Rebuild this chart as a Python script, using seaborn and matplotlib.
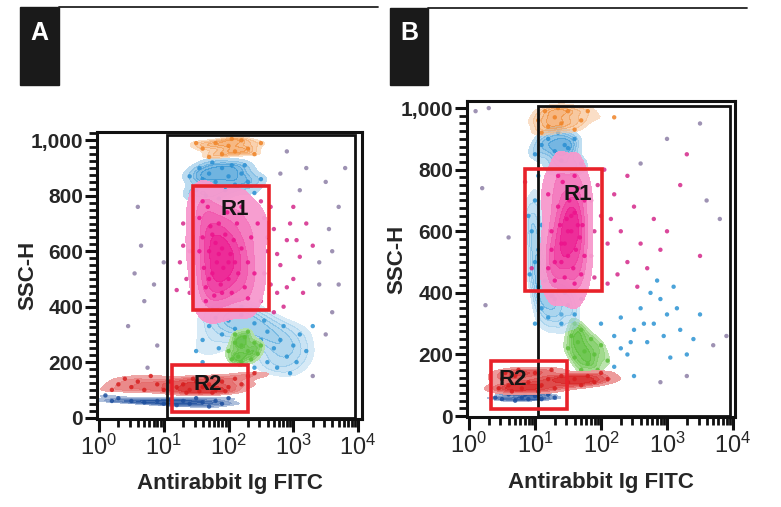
import numpy as np
import pandas as pd
import matplotlib
matplotlib.use("Agg")
import matplotlib.pyplot as plt
import seaborn as sns
from matplotlib.patches import Rectangle
from matplotlib.lines import Line2D
from matplotlib.colors import LinearSegmentedColormap, to_rgb
from matplotlib.ticker import FixedLocator, MultipleLocator, LogLocator, FuncFormatter, NullFormatter

# ---------------- data (x = log10 FITC, y = SSC-H) ----------------
# Panel A
a_magenta = [(1.55,720),(1.6,650),(1.62,540),(1.65,470),(1.68,760),(1.7,600),(1.72,690),(1.75,520),
             (1.78,440),(1.8,630),(1.82,560),(1.85,700),(1.88,480),(1.9,610),(1.92,540),(1.95,660),
             (1.98,740),(2.0,500),(2.03,590),(2.05,450),(2.08,640),(2.1,560),(2.13,700),(2.15,520),
             (2.2,610),(2.25,470),(2.3,560),(2.35,650),(2.4,520),(1.7,500),(1.85,590),(2.0,560),
             (1.9,450),(1.75,660),(1.6,780),(2.2,760),(1.65,420),(2.3,430),(2.45,700),(1.55,600)]
a_magenta_out = [(2.6,600),(2.7,680),(2.8,550),(2.9,640),(3.0,500),(3.1,580),(2.75,450),(2.55,720),
                 (2.65,760),(3.2,700),(1.4,600),(1.35,500),(1.45,780),(3.3,620),(2.85,400),(2.5,420),
                 (3.0,760),(1.3,700),(2.55,520),(2.7,380),(1.4,450),(2.9,470),(3.15,450),(1.25,560),
                 (2.6,650),(2.75,590),(2.5,780),(1.3,620),(2.95,700),(2.65,480),(1.2,460),(3.05,640)]
a_blue_up = [(1.5,820),(1.6,860),(1.7,880),(1.8,850),(1.9,900),(2.0,870),(2.1,840),(2.2,880),(2.3,850),
             (1.65,800),(1.95,820),(2.4,810),(1.4,870),(1.75,920),(2.05,910),(1.85,790),(1.55,900),
             (2.25,910),(2.5,860),(1.45,800)]
a_orange = [(1.6,970),(1.8,990),(1.9,950),(2.0,980),(2.1,960),(2.2,1000),(2.3,970),(1.7,940),(2.4,950),
            (2.5,990),(1.5,990),(2.05,1005)]
a_blue_mid = [(1.7,330),(1.8,360),(1.9,300),(2.0,350),(2.1,320),(2.2,370),(2.3,300),(2.4,340),(2.5,280),
              (2.6,310),(2.7,250),(2.8,280),(2.9,220),(3.0,260),(3.1,300),(3.2,240),(2.6,200),(2.4,180),
              (1.6,280),(1.5,240),(2.2,400),(2.0,400),(3.3,330),(2.75,180),(1.85,250),(2.55,350),
              (2.85,330),(3.05,200),(1.75,390),(2.35,390),(1.6,200),(2.95,160)]
a_green = [(2.0,240),(2.1,270),(2.15,220),(2.2,260),(2.25,290),(2.3,240),(2.35,210),(2.4,270),(2.45,230),
           (2.2,200),(2.1,300),(2.5,260),(2.05,210),(2.3,310)]
a_red = [(0.3,120),(0.4,140),(0.5,110),(0.6,130),(0.7,100),(0.8,150),(0.9,120),(1.0,100),(1.1,130),
         (1.2,110),(1.3,120),(1.4,100),(1.5,130),(1.6,110),(1.7,120),(1.8,100),(1.9,130),(2.0,110),
         (2.1,140),(2.2,120),(2.3,150),(1.35,90),(1.55,95),(1.75,90),(1.95,95),(2.4,160),(0.2,100),
         (1.45,140),(1.65,145)]
a_blue_low = [(0.1,80),(0.2,60),(0.3,70),(0.5,60),(0.7,55),(0.9,60),(1.0,50),(1.1,65),(1.2,45),(1.3,60),
              (1.4,50),(1.5,70),(1.6,55),(1.7,40),(1.8,60),(1.9,50),(2.0,70)]
a_sparse = [(0.55,520),(0.7,420),(0.45,330),(0.85,480),(0.65,620),(1.0,560),(0.9,260),(0.75,180),
            (3.5,850),(3.6,600),(3.7,760),(3.4,480),(3.6,380),(3.8,900),(3.2,900),(3.5,300),(2.9,960),
            (3.3,150),(0.6,760),(3.4,560),(3.7,480),(3.1,820),(2.8,880),(3.55,680)]

# Panel B
b_magenta = [(1.2,720),(1.25,600),(1.3,500),(1.35,680),(1.4,560),(1.42,760),(1.45,450),(1.48,640),
             (1.5,520),(1.52,700),(1.55,600),(1.58,480),(1.6,660),(1.62,540),(1.65,740),(1.68,580),
             (1.7,460),(1.72,620),(1.75,520),(1.3,440),(1.38,620),(1.45,560),(1.55,650),(1.6,430),
             (1.25,540),(1.5,600),(1.4,500),(1.65,620),(1.2,480),(1.75,700),(1.35,780),(1.6,780)]
b_magenta_out = [(1.85,700),(1.9,600),(2.0,650),(2.1,560),(2.2,720),(2.3,600),(2.4,500),(2.5,680),
                 (2.6,560),(2.8,640),(3.0,600),(3.2,750),(3.3,850),(2.7,480),(2.9,540),(3.5,520),
                 (1.9,450),(2.1,430),(0.85,760),(0.95,480),(2.05,800),(2.4,780),(1.85,520),
                 (2.25,460),(2.55,420),(2.15,640),(1.95,750)]
b_blue_up = [(1.0,850),(1.1,880),(1.2,900),(1.3,860),(1.4,830),(1.5,870),(1.6,900),(1.7,820),
             (1.35,920),(1.55,800),(1.25,800),(1.45,880)]
b_blue_side = [(1.05,780),(1.0,700),(0.95,600),(1.0,500),(1.05,420),(1.1,350),(1.2,320),(1.3,380),
               (1.4,300),(1.5,360),(1.6,330),(0.9,650),(1.0,300),(1.1,620),(1.05,540),(0.92,460),
               (1.15,440),(1.25,390),(1.45,400),(1.7,380)]
b_orange = [(1.05,960),(1.15,990),(1.2,940),(1.3,970),(1.4,950),(1.5,990),(1.6,930),(1.7,960),(1.1,920),
            (1.35,1000),(1.8,990),(2.2,970)]
b_green = [(1.5,220),(1.55,260),(1.6,190),(1.65,240),(1.7,280),(1.75,210),(1.8,170),(1.85,250),(1.9,200),
           (1.7,150),(1.6,300),(2.0,230),(2.1,180),(1.95,150)]
b_blue_mid = [(2.0,300),(2.2,260),(2.3,320),(2.4,200),(2.5,280),(2.6,350),(2.7,240),(2.8,300),(2.9,380),
              (3.0,330),(3.1,420),(3.2,280),(2.2,160),(2.5,130),(2.3,220),(3.4,250),(3.5,330),(2.75,400),
              (1.4,330),(3.3,200),(2.65,300),(2.95,260),(3.15,350),(2.45,240),(2.85,440),(3.05,190)]
b_red = [(0.45,90),(0.5,120),(0.6,100),(0.7,130),(0.8,90),(0.9,110),(1.0,140),(1.1,100),(1.2,120),
         (1.3,90),(1.4,130),(1.5,110),(1.6,120),(1.7,100),(1.8,130),(1.9,110),(2.0,140),(2.1,120),
         (0.55,140),(0.75,150),(1.05,80),(1.25,150),(0.65,80)]
b_blue_low = [(0.4,60),(0.5,55),(0.6,70),(0.7,50),(0.8,60),(0.9,55),(1.0,65),(1.1,55),(1.2,70),(1.3,60),
              (0.55,75),(0.85,70)]
b_sparse = [(0.3,1000),(0.1,990),(0.2,740),(0.25,360),(0.6,580),(3.0,900),(3.5,950),(3.8,640),(3.7,230),
            (3.9,260),(3.3,130),(3.6,700),(2.6,820),(2.9,110)]

# gates: [log10 x0, log10 x1, y0, y1]
a_gate = [1.05, 3.95, 0, 1018]
a_r1 = [1.45, 2.63, 388, 835]
a_r2 = [1.13, 2.30, 22, 191]
b_gate = [1.045, 3.95, 0, 1006]
b_r1 = [0.85, 2.02, 405, 803]
b_r2 = [0.33, 1.48, 23, 178]
# gate label positions (log10 x, y)
a_labels = {"R1": (2.1, 752), "R2": (1.68, 119)}
b_labels = {"R1": (1.65, 718), "R2": (0.67, 120)}

x_ticks = [1, 10, 100, 1000, 10000]
y_ticks = [0, 200, 400, 600, 800, 1000]
y_tick_labels = ["0", "200", "400", "600", "800", "1,000"]

colors = {"sparse": "#8d7fa6", "blue_mid": "#2b93d3", "green": "#5cbf3a", "blue_up": "#2a8fd2",
          "blue_side": "#2a95d6", "orange": "#ef8326", "magenta_out": "#d4288a", "magenta": "#ec128c",
          "blue_low": "#1d4f9e", "red": "#d71f1f"}

order = ["sparse", "blue_mid", "green", "blue_side", "blue_up", "orange", "magenta_out", "magenta",
         "blue_low", "red"]
panels = {
    "A": dict(sparse=a_sparse, blue_mid=a_blue_mid, green=a_green, blue_up=a_blue_up, orange=a_orange,
              magenta_out=a_magenta_out, magenta=a_magenta, blue_low=a_blue_low, red=a_red),
    "B": dict(sparse=b_sparse, blue_mid=b_blue_mid, green=b_green, blue_up=b_blue_up,
              blue_side=b_blue_side, orange=b_orange, magenta_out=b_magenta_out, magenta=b_magenta,
              blue_low=b_blue_low, red=b_red),
}
rows = []
for p, pops in panels.items():
    for name, pts in pops.items():
        for lx, y in pts:
            rows.append((p, name, 10 ** lx, y))
df = pd.DataFrame(rows, columns=["panel", "pop", "fitc", "ssc"])

# ---------------- style ----------------
sns.set_style("white")
plt.rcParams['font.family'] = ['Liberation Sans', 'DejaVu Sans']
plt.rcParams['mathtext.fontset'] = 'custom'
plt.rcParams['mathtext.rm'] = 'Liberation Sans'
plt.rcParams['mathtext.it'] = 'Liberation Sans:italic'
plt.rcParams['mathtext.bf'] = 'Liberation Sans:bold'

W, H = 781, 507
fig = plt.figure(figsize=(W / 100, H / 100), dpi=100)

def fx(px):
    return px / W

def fy(py):
    return 1 - py / H

def tint_cmap(color):
    r, g, b = to_rgb(color)
    light = (1 - 0.35 * (1 - r), 1 - 0.35 * (1 - g), 1 - 0.35 * (1 - b))
    return LinearSegmentedColormap.from_list("t", [light, (r, g, b)])

layout = {
    "A": dict(box=(97, 132, 362, 419), xlim=(10 ** -0.03, 10 ** 4.06), ylim=(-5, 1030),
              gate=a_gate, r1=a_r1, r2=a_r2, labels=a_labels, xlab_y=-0.223, ylab_x=-0.26),
    "B": dict(box=(467, 101, 735, 417), xlim=(10 ** -0.03, 10 ** 4.03), ylim=(-3, 1023),
              gate=b_gate, r1=b_r1, r2=b_r2, labels=b_labels, xlab_y=-0.206, ylab_x=-0.261),
}

# soft density shading under the dots (per panel): (thresh, alpha, bw_adjust)
kde_cfg = {
    "A": {"blue_mid": (0.3, 0.45, 1.0), "green": (0.25, 0.9, 0.9), "blue_up": (0.2, 0.7, 0.9),
          "orange": (0.3, 0.6, 0.9), "magenta": (0.05, 0.95, 1.05), "blue_low": (0.25, 0.85, 0.9),
          "red": (0.15, 0.95, 0.8)},
    "B": {"green": (0.25, 0.9, 0.9), "blue_up": (0.2, 0.7, 0.9), "blue_side": (0.35, 0.5, 0.8),
          "orange": (0.3, 0.6, 0.9), "magenta": (0.05, 0.95, 1.0), "blue_low": (0.25, 0.85, 0.9),
          "red": (0.15, 0.95, 0.8)},
}

for p in ["A", "B"]:
    L = layout[p]
    x0, y0, x1, y1 = L["box"]
    ax = fig.add_axes([fx(x0), fy(y1), fx(x1) - fx(x0), fy(y0) - fy(y1)])
    sub = df[df.panel == p]
    for name in order:
        d = sub[sub["pop"] == name]
        if len(d) == 0:
            continue
        if name in kde_cfg[p]:
            th, al, bw = kde_cfg[p][name]
            sns.kdeplot(data=d, x="fitc", y="ssc", log_scale=(True, False), fill=True,
                        cmap=tint_cmap(colors[name]), levels=6, thresh=th, alpha=al,
                        bw_adjust=bw, ax=ax, warn_singular=False)
        sns.scatterplot(data=d, x="fitc", y="ssc", color=colors[name], s=10, alpha=0.85,
                        linewidth=0, ax=ax, legend=False)
    for coll in ax.collections:
        coll.set_linewidth(0)
        coll.set_edgecolor("none")
    ax.set_xscale("log")
    ax.set_xlim(*L["xlim"])
    ax.set_ylim(*L["ylim"])

    # gates
    g = L["gate"]
    ax.add_patch(Rectangle((10 ** g[0], g[2]), 10 ** g[1] - 10 ** g[0], g[3] - g[2],
                           fill=False, ec="#111111", lw=2.0, zorder=5))
    for key in ["r1", "r2"]:
        r = L[key]
        ax.add_patch(Rectangle((10 ** r[0], r[2]), 10 ** r[1] - 10 ** r[0], r[3] - r[2],
                               fill=False, ec="#e8222a", lw=2.6, zorder=6))
    for lab, (lx, ly) in L["labels"].items():
        ax.text(10 ** lx, ly, lab, ha="center", va="center", fontsize=16, fontweight="bold",
                color="#151515", zorder=7)

    # axes styling
    for s in ax.spines.values():
        s.set_linewidth(2.2)
        s.set_color("#111111")
        s.set_visible(True)
        s.set_zorder(8)
    ax.xaxis.set_major_locator(FixedLocator(x_ticks))
    ax.xaxis.set_minor_locator(LogLocator(base=10, subs=np.arange(2, 10), numticks=20))
    ax.xaxis.set_major_formatter(FuncFormatter(lambda v, pos: r"$10^{%d}$" % round(np.log10(v))))
    ax.xaxis.set_minor_formatter(NullFormatter())
    ax.yaxis.set_major_locator(FixedLocator(y_ticks))
    ax.set_yticklabels(y_tick_labels)
    ax.yaxis.set_minor_locator(MultipleLocator(25))
    ax.tick_params(axis="both", which="major", direction="out", length=9, width=2.2, color="#111111")
    ax.tick_params(axis="both", which="minor", direction="out", length=6, width=2.0, color="#111111")
    ax.tick_params(axis="x", which="major", labelsize=17, pad=2, bottom=True)
    ax.tick_params(axis="x", which="minor", bottom=True)
    ax.tick_params(axis="y", which="major", labelsize=15, pad=1, left=True)
    ax.tick_params(axis="y", which="minor", left=True)
    for t in ax.get_yticklabels():
        t.set_fontweight("bold")
    ax.set_xlabel("Antirabbit Ig FITC", fontsize=16, fontweight="bold", va="center")
    ax.set_ylabel("SSC-H", fontsize=16, fontweight="bold", va="center")
    ax.xaxis.set_label_coords(0.5, L["xlab_y"])
    ax.yaxis.set_label_coords(L["ylab_x"], 0.5)
    ax.grid(False)

# panel headers
for letter, bx, bw, ly, lx_end in [("A", 20, 39, 7, 378), ("B", 390, 38, 8, 747)]:
    fig.add_artist(Rectangle((fx(bx), fy(85)), fx(bw), fy(ly) - fy(85), transform=fig.transFigure,
                             color="#1a1a1a", zorder=1))
    fig.text(fx(bx + bw / 2), fy(33), letter, color="white", fontsize=18, fontweight="bold",
             ha="center", va="center")
    fig.add_artist(Line2D([fx(bx + bw), fx(lx_end)], [fy(ly), fy(ly)], transform=fig.transFigure,
                          color="#222222", lw=1.3))

fig.savefig("out.png", dpi=100)
